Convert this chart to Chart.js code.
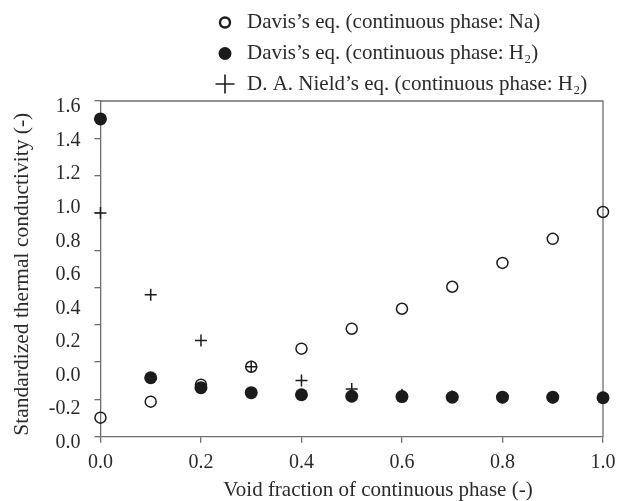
<!DOCTYPE html>
<html>
<head>
<meta charset="utf-8">
<script src="https://cdn.jsdelivr.net/npm/chart.js@4/dist/chart.umd.min.js"></script>
<style>
  html, body { margin: 0; padding: 0; background: #fff; }
  canvas { display: block; }
</style>
</head>
<body>
<canvas id="chart" width="617" height="501"></canvas>
<script>
// Void fraction of the continuous phase (x values)
const voidFraction = [0.0, 0.1, 0.2, 0.3, 0.4, 0.5, 0.6, 0.7, 0.8, 0.9, 1.0];

// Standardized thermal conductivity for each model
const davisNa  = [-0.098, -0.012, 0.079, 0.175, 0.272, 0.379, 0.486, 0.604, 0.732, 0.861, 1.005];
const davisH2  = [1.504, 0.116, 0.063, 0.036, 0.025, 0.017, 0.015, 0.012, 0.012, 0.012, 0.009];
const nieldH2  = [1.000, 0.561, 0.316, 0.175, 0.102, 0.056, 0.025, 0.016, 0.012, 0.010, 0.009];

const seriesNames = [
  'Davis\u2019s eq. (continuous phase: Na)',
  'Davis\u2019s eq. (continuous phase: H\u2082)',
  'D. A. Nield\u2019s eq. (continuous phase: H\u2082)'
];

// Printed labels of the vertical axis, top to bottom
const yTickLabels = ['1.6', '1.4', '1.2', '1.0', '0.8', '0.6', '0.4', '0.2', '0.0', '-0.2', '0.0'];
const xTickLabels = ['0.0', '0.2', '0.4', '0.6', '0.8', '1.0'];

const xTitle = 'Void fraction of continuous phase (-)';
const yTitle = 'Standardized thermal conductivity (-)';

const FONT = "'Liberation Serif', 'Times New Roman', serif";
const INK = '#1b1b1b';
const TEXT = '#2a2a2a';
const AXIS = '#6e6e6e';

function pts(ys) { return voidFraction.map((x, i) => ({ x: x, y: ys[i] })); }

// Top and right edges of the plotting frame
const framePlugin = {
  id: 'frame',
  beforeDatasetsDraw(chart) {
    const { ctx, chartArea: a } = chart;
    ctx.save();
    ctx.strokeStyle = AXIS;
    ctx.lineWidth = 1.3;
    ctx.beginPath();
    ctx.moveTo(a.left, a.top);
    ctx.lineTo(a.right, a.top);
    ctx.lineTo(a.right, a.bottom);
    ctx.stroke();
    ctx.restore();
  }
};

// Key stacked above the plot, one entry per row
const keyPlugin = {
  id: 'stackedKey',
  afterDraw(chart) {
    const ctx = chart.ctx;
    const mx = 225, tx = 247, rows = [22.5, 53.5, 84];
    ctx.save();
    ctx.font = '21px ' + FONT;
    ctx.textBaseline = 'middle';
    ctx.textAlign = 'left';
    chart.data.datasets.forEach((ds, i) => {
      const y = rows[i];
      ctx.strokeStyle = INK;
      ctx.fillStyle = INK;
      if (ds.pointStyle === 'cross') {
        ctx.lineWidth = 1.6;
        ctx.beginPath();
        ctx.moveTo(mx - 9.5, y); ctx.lineTo(mx + 9.5, y);
        ctx.moveTo(mx, y - 9.5); ctx.lineTo(mx, y + 9.5);
        ctx.stroke();
      } else if (ds.hollow) {
        ctx.lineWidth = 2.4;
        ctx.beginPath();
        ctx.arc(mx, y, 5, 0, Math.PI * 2);
        ctx.stroke();
      } else {
        ctx.beginPath();
        ctx.arc(mx, y, 6.5, 0, Math.PI * 2);
        ctx.fill();
      }
      ctx.fillStyle = TEXT;
      ctx.fillText(ds.label, tx, y);
    });
    ctx.restore();
  }
};

new Chart(document.getElementById('chart').getContext('2d'), {
  type: 'scatter',
  data: {
    datasets: [
      {
        label: seriesNames[0], data: pts(davisNa), hollow: true,
        pointStyle: 'circle', pointRadius: 5.5, pointBorderWidth: 1.5,
        pointBorderColor: INK, pointBackgroundColor: 'rgba(0,0,0,0)', clip: false
      },
      {
        label: seriesNames[1], data: pts(davisH2),
        pointStyle: 'circle', pointRadius: 6.5, pointBorderWidth: 0,
        pointBorderColor: INK, pointBackgroundColor: INK, clip: false
      },
      {
        label: seriesNames[2], data: pts(nieldH2),
        pointStyle: 'cross', pointRadius: 6, pointBorderWidth: 1.5,
        pointBorderColor: INK, pointBackgroundColor: INK, clip: false
      }
    ]
  },
  options: {
    responsive: false,
    animation: false,
    events: [],
    layout: { padding: { top: 101, left: 4, right: 14, bottom: 0 } },
    plugins: { legend: { display: false }, tooltip: { enabled: false } },
    scales: {
      x: {
        type: 'linear', position: 'bottom', min: 0, max: 1,
        afterBuildTicks: s => { s.ticks = xTickLabels.map(t => ({ value: parseFloat(t) })); },
        ticks: {
          callback: (v, i) => xTickLabels[i], autoSkip: false, maxRotation: 0,
          padding: 1.5, color: TEXT, font: { family: FONT, size: 20, lineHeight: 1.85 }
        },
        grid: { drawOnChartArea: false, tickLength: 6, color: AXIS, lineWidth: 1.3 },
        border: { color: AXIS, width: 1.3 },
        title: {
          display: true, text: ' '.repeat(10) + xTitle, color: TEXT,
          font: { family: FONT, size: 21, lineHeight: 0.7 }, padding: { top: 0, bottom: 3.6 }
        }
      },
      y: {
        type: 'linear', position: 'left', weight: 0, min: -0.2, max: 1.6,
        ticks: { display: false, stepSize: 0.2 },
        grid: { drawOnChartArea: false, tickLength: 6, color: AXIS, lineWidth: 1.3 },
        border: { color: AXIS, width: 1.3 }
      },
      yLabels: {
        type: 'linear', position: 'left', weight: 1, min: 0.18, max: 10.18,
        afterBuildTicks: s => { s.ticks = yTickLabels.map((_, i) => ({ value: i })); },
        ticks: {
          callback: v => yTickLabels[10 - v], autoSkip: false,
          padding: 14, color: TEXT, font: { family: FONT, size: 20 }
        },
        grid: { display: false, drawTicks: false },
        border: { display: false },
        title: {
          display: true, text: yTitle + '  ', color: TEXT,
          font: { family: FONT, size: 21.5 }, padding: { top: 5, bottom: 0 }
        }
      }
    }
  },
  plugins: [framePlugin, keyPlugin]
});
</script>
</body>
</html>
